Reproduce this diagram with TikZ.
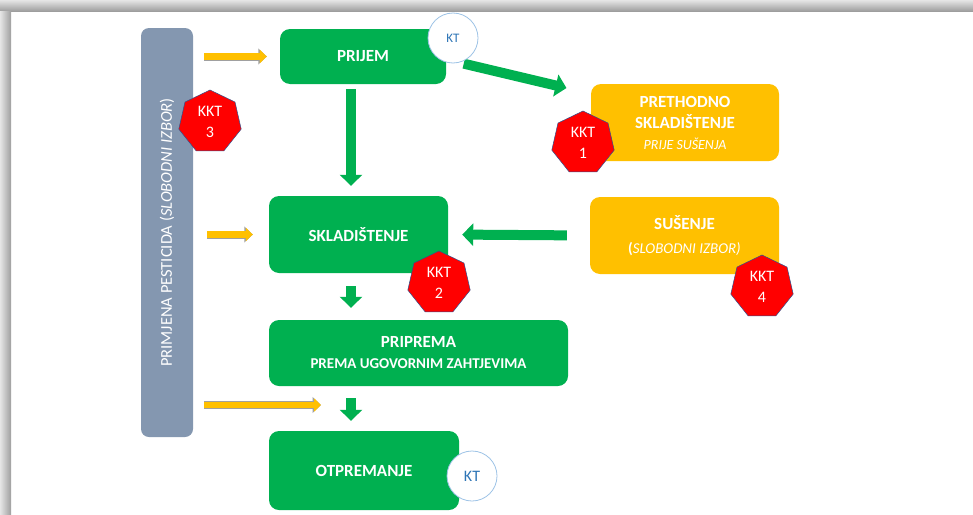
\documentclass[tikz,border=0pt]{standalone}
\usepackage{fontspec}
\setmainfont{Carlito}
\usepackage{tikz}
\usetikzlibrary{arrows.meta,shapes.geometric,calc}
\definecolor{kgreen}{HTML}{00B050}
\definecolor{korange}{HTML}{FFC000}
\definecolor{kgray}{HTML}{8497B0}
\definecolor{kred}{HTML}{FF0000}
\definecolor{kborder}{HTML}{2F528F}
\definecolor{ktblue}{HTML}{2E75B6}
\definecolor{ktline}{HTML}{9DC3E6}
\definecolor{oline}{HTML}{A0A0A0}
\tikzstyle{block} = [rectangle, rounded corners=10pt, inner sep=0pt, text=white, align=center, font=\fontsize{17}{21}\selectfont\bfseries]
\tikzstyle{greenblock} = [block, fill=kgreen]
\tikzstyle{yellowblock} = [block, fill=korange]
\tikzstyle{bar} = [rectangle, rounded corners=8pt, fill=kgray, text=white, rotate=90, minimum width=409pt, minimum height=52pt, font=\fontsize{16.5}{19}\selectfont]
\tikzstyle{kkt} = [regular polygon, regular polygon sides=7, minimum size=64pt, inner sep=0pt, fill=kred, draw=kborder, line width=0.5pt, text=white, align=center, font=\fontsize{16}{21}\selectfont]
\tikzstyle{kt} = [circle, minimum size=50pt, inner sep=0pt, fill=white, draw=ktline, line width=0.8pt, text=ktblue, font=\fontsize{13}{15}\selectfont]
\tikzstyle{garrow} = [draw=kgreen, line width=10pt, -{Triangle[width=22pt,length=11pt]}]
\tikzstyle{oarrow} = [draw=korange, line width=6.5pt, -{Triangle[width=13pt,length=7pt]}, preaction={draw=oline, line width=8pt, -{Triangle[width=15.5pt,length=8.5pt]}}]

\begin{document}
\begin{tikzpicture}[x=1pt,y=1pt]
  \useasboundingbox (0pt,0pt) rectangle (973pt,-514pt);
  \draw (167pt,-232.5pt)node[bar](bar){PRIMJENA PESTICIDA (\textit{SLOBODNI IZBOR})};
  \draw (363pt,-56.5pt)node[greenblock, minimum width=166pt, minimum height=55pt](prijem){PRIJEM};
  \draw (358.5pt,-234.5pt)node[greenblock, minimum width=179pt, minimum height=77pt](skl){SKLADIŠTENJE};
  \draw (418.5pt,-353pt)node[greenblock, minimum width=299pt, minimum height=66pt](pripr){PRIPREMA\\{\fontsize{15}{21}\selectfont PREMA UGOVORNIM ZAHTJEVIMA}};
  \draw (364pt,-470.5pt)node[greenblock, minimum width=190pt, minimum height=79pt](otpr){OTPREMANJE};
  \draw (685pt,-122.5pt)node[yellowblock, minimum width=188pt, minimum height=77pt](preth){PRETHODNO\\SKLADIŠTENJE\\{\fontsize{14}{21}\selectfont\mdseries\itshape PRIJE SUŠENJA}};
  \draw (684.5pt,-235.5pt)node[yellowblock, minimum width=189pt, minimum height=77pt](sus){SUŠENJE\\[3pt]{\fontsize{15}{21}\selectfont (\mdseries\itshape SLOBODNI IZBOR)}};
  % tok
  \coordinate (axis) at (351pt,0pt);
  \coordinate (ojoin) at (321pt,-405pt);
  \draw[garrow, shorten <=5pt, shorten >=10pt] (prijem.south -| axis) -- (skl.north -| axis);
  \draw[garrow, shorten <=13pt, shorten >=12pt] (skl.south -| axis) -- (pripr.north -| axis);
  \draw[garrow, shorten <=12pt, shorten >=10pt] (pripr.south -| axis) -- (otpr.north -| axis);
  \draw[garrow, shorten <=23pt, shorten >=14pt] (sus.west) -- (skl.east);
  \draw[garrow, shorten <=18pt, shorten >=25pt] ($(prijem.east)+(0pt,-3pt)$) -- ($(preth.north west)+(0pt,-10pt)$);
  \draw[oarrow, shorten <=11pt, shorten >=13pt] (bar.south |- prijem) -- (prijem.west);
  \draw[oarrow, shorten <=14pt, shorten >=16pt] (bar.south |- skl) -- (skl.west);
  \draw[oarrow, shorten <=11pt] (bar.south |- ojoin) -- (ojoin);
  % kontrolne tocke
  \draw (210pt,-122pt)node[kkt](kkt3){KKT\\3};
  \draw (583pt,-143pt)node[kkt](kkt1){KKT\\1};
  \draw (439pt,-283pt)node[kkt](kkt2){KKT\\2};
  \draw (762pt,-287pt)node[kkt](kkt4){KKT\\4};
  \draw (453pt,-38pt)node[kt](kt1){KT};
  \draw (472pt,-476pt)node[kt, font=\fontsize{16}{18}\selectfont](kt2){KT};
  % sjena okvira
  \shade[top color=black!10, bottom color=black!38] (0pt,0pt) rectangle (973pt,-11pt);
  \shade[left color=black!10, right color=black!38] (0pt,-11pt) rectangle (11pt,-514pt);
\end{tikzpicture}
\end{document}
